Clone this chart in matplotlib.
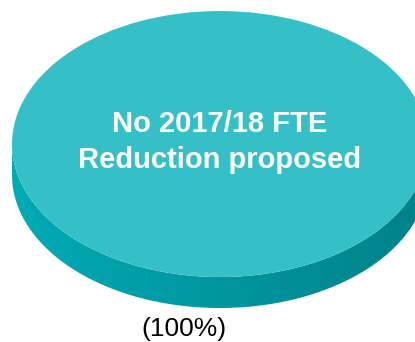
import numpy as np
import matplotlib.pyplot as plt
from matplotlib.colors import LinearSegmentedColormap

# single-slice FTE pie
values = [100]
slice_label = "No 2017/18 FTE\nReduction proposed"
pct_label = "(100%)"

top_colour = "#35c0c8"
side_left = "#00abb5"
side_right = "#008189"

W, H = 415, 342
cx, cy = 220, 144        # centre of the top face (pixels, from top)
rx, ry = 208, 133        # ellipse half-width / half-height
depth = 31               # thickness of the disc
s = ry / rx              # vertical squash

fig = plt.figure(figsize=(W / 100, H / 100), dpi=100)
ax = fig.add_axes([0, 0, 1, 1])

# y in data units is stretched by 1/s so a circle of radius rx looks like an ellipse
def ydat(ypix):
    return (H - ypix) / s

# side of the disc: lower half of the top ellipse down to the lower half of the bottom one
t = np.linspace(np.pi, 2 * np.pi, 200)
top_edge = np.column_stack([cx + rx * np.cos(t), ydat(cy) + rx * np.sin(t)])
bot_edge = np.column_stack([cx + rx * np.cos(t[::-1]), ydat(cy + depth) + rx * np.sin(t[::-1])])
verts = np.vstack([top_edge, bot_edge, top_edge[:1]])

cmap = LinearSegmentedColormap.from_list("side", [side_left, side_right])
grad = np.linspace(0, 1, 256).reshape(1, -1)
img = ax.imshow(grad, cmap=cmap, aspect="auto",
                extent=[cx - rx, cx + rx, ydat(cy + depth + rx * s + 5), ydat(cy - 5)],
                zorder=1)
patch = plt.Polygon(verts, closed=True, facecolor="none", edgecolor="none")
ax.add_patch(patch)
img.set_clip_path(patch)

# top face
wedges, _ = ax.pie(values, colors=[top_colour], radius=rx, center=(cx, ydat(cy)),
                   startangle=90, frame=True, wedgeprops=dict(linewidth=0))
for w in wedges:
    w.set_zorder(2)

ax.text(cx, ydat(142), slice_label, ha="center", va="center", color="white",
        fontsize=21, fontweight="bold", family="Liberation Sans",
        linespacing=1.33, zorder=3)
ax.text(184, ydat(329), pct_label, ha="center", va="center", color="black",
        fontsize=19, family="Liberation Sans", zorder=3)

ax.set_aspect("auto")
ax.set_xlim(0, W)
ax.set_ylim(ydat(H), ydat(0))
ax.axis("off")

fig.savefig("out.png", dpi=100, facecolor="white")
